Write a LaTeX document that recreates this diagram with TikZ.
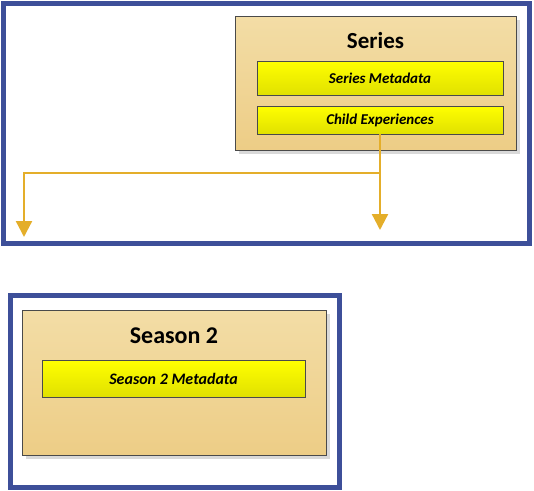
\documentclass[tikz,border=0pt]{standalone}
\usepackage{fontspec}
\setmainfont{Carlito}
\usepackage{xcolor}
\usetikzlibrary{arrows.meta,shadows}

\definecolor{frameblue}{HTML}{3D4F99}
\definecolor{tantop}{HTML}{F3DDA6}
\definecolor{tanbot}{HTML}{EDCD86}
\definecolor{flowgold}{HTML}{E4AE2A}
\definecolor{edgegray}{HTML}{4A4A4A}

\tikzset{
  frame/.style={draw=frameblue, line width=5pt, minimum width=#1},
  holder/.style={draw=edgegray, line width=0.8pt, top color=tantop, bottom color=tanbot,
    drop shadow={shadow xshift=4pt, shadow yshift=-4pt, fill=black!15, opacity=1}},
  meta/.style={draw=edgegray, line width=0.8pt, top color=yellow, bottom color=yellow!88!black,
    font=\bfseries\itshape, inner sep=0pt},
  flow/.style={draw=flowgold, line width=2.3pt, -{Triangle[width=16pt,length=16pt]}}
}

\begin{document}
\begin{tikzpicture}[x=1pt,y=-1pt]
\useasboundingbox (0,0) rectangle (534,490);

\node[frame=526.5pt, minimum height=239.5pt] (frameTop) at (266.25,123.25) {};
\node[frame=329pt, minimum height=192pt] (frameBottom) at (175,391.5) {};

\node[holder, minimum width=281pt, minimum height=134pt] (series) at (375.5,83) {};
\node[font=\fontsize{23}{27}\selectfont\bfseries] (seriesTitle) at (375.5,41) {Series};
\node[meta, minimum width=246pt, minimum height=34pt] (seriesMeta) at (380,78) {\fontsize{15}{18}\selectfont Series Metadata};
\node[meta, minimum width=246pt, minimum height=28pt] (childExp) at (380,120) {\fontsize{15}{18}\selectfont Child Experiences};

\node[holder, minimum width=304pt, minimum height=145pt] (season) at (174,382.5) {};
\node[font=\fontsize{24}{28}\selectfont\bfseries] (seasonTitle) at (174,336) {Season 2};
\node[meta, minimum width=263pt, minimum height=37pt] (seasonMeta) at (173.5,378.5) {\fontsize{16}{19}\selectfont Season 2 Metadata};

\coordinate (bend) at (24,173);
\coordinate (tipL) at (24,237);
\coordinate (tipR) at (380,230);

\draw[flow] (childExp.south) -- (tipR);
\draw[flow] (childExp.south |- bend) -- (bend) -- (tipL);
\end{tikzpicture}
\end{document}
